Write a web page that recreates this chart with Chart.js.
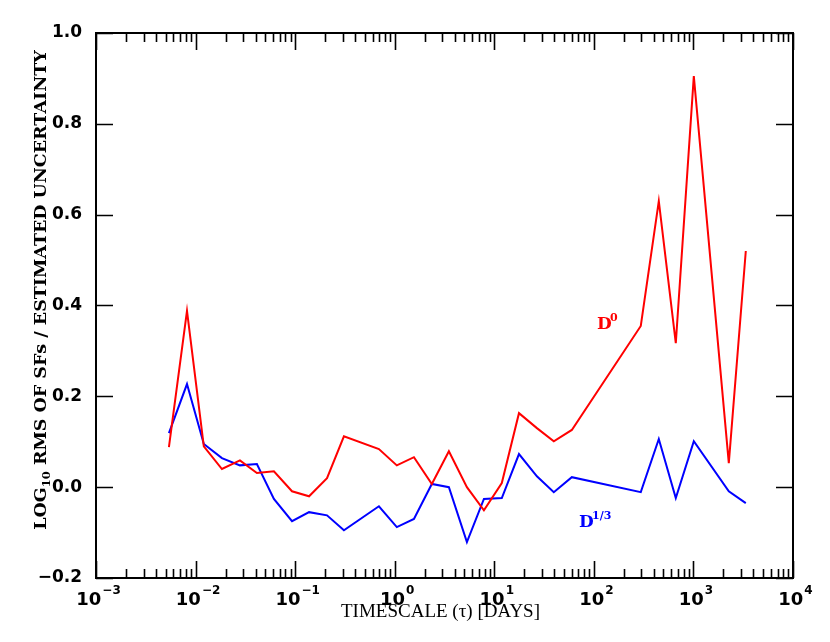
<!DOCTYPE html>
<html>
<head>
<meta charset="utf-8">
<script src="https://cdn.jsdelivr.net/npm/chart.js@4/dist/chart.umd.min.js"></script>
<style>
  html, body { margin: 0; padding: 0; background: #fff; }
  #wrap { width: 830px; height: 642px; }
</style>
</head>
<body>
<div id="wrap"><canvas id="c" width="830" height="642"></canvas></div>
<script>
// Timescale tau [days]
const timescaleDays = [0.0054, 0.0082, 0.0121, 0.0184, 0.0279, 0.0413, 0.0612, 0.093, 0.138, 0.209, 0.309,
  0.694, 1.05, 1.56, 2.36, 3.50, 5.31, 7.87, 11.9, 17.7, 26.8, 39.6, 60.1, 296, 449, 665, 1009, 2266, 3357];
// log10 RMS of SFs / estimated uncertainty
const d0Values = [0.088, 0.388, 0.090, 0.040, 0.059, 0.031, 0.035, -0.009, -0.020, 0.020, 0.112,
  0.084, 0.048, 0.066, 0.007, 0.079, 0.000, -0.051, 0.009, 0.163, 0.130, 0.101, 0.126, 0.355, 0.630, 0.317, 0.905, 0.053, 0.520];
const d13Values = [0.119, 0.227, 0.095, 0.064, 0.048, 0.051, -0.026, -0.075, -0.055, -0.062, -0.095,
  -0.042, -0.088, -0.070, 0.007, 0.000, -0.121, -0.026, -0.024, 0.073, 0.024, -0.011, 0.022, -0.011, 0.106, -0.024, 0.101, -0.009, -0.035];
const xTickValues = [1e-3, 1e-2, 1e-1, 1e0, 1e1, 1e2, 1e3, 1e4];
const xTickExponents = ['\u22123', '\u22122', '\u22121', '0', '1', '2', '3', '4'];
const yTickValues = [-0.2, 0.0, 0.2, 0.4, 0.6, 0.8, 1.0];
const yTickLabels = ['\u22120.2', '0.0', '0.2', '0.4', '0.6', '0.8', '1.0'];
const seriesNames = ['D0', 'D1/3'];
const xTitle = 'TIMESCALE (\u03C4) [DAYS]';
const yTitleParts = ['LOG', '10', ' RMS OF SFs / ESTIMATED UNCERTAINTY'];

const tickFont = { family: 'DejaVu Sans', size: 17, weight: 'bold' };

const framePlugin = {
  id: 'frame',
  afterDraw(chart) {
    const { ctx, chartArea: a, scales } = chart;
    const xs = scales.x, ys = scales.y;
    ctx.save();
    ctx.strokeStyle = '#000';
    ctx.lineWidth = 2;
    ctx.strokeRect(a.left, a.top, a.right - a.left, a.bottom - a.top);
    ctx.lineWidth = 1.6;
    ctx.beginPath();
    for (let e = -3; e <= 4; e++) {
      for (let m = 1; m <= 9; m++) {
        const v = m * Math.pow(10, e);
        if (v > 1e4 * 1.0001) break;
        const px = Math.round(xs.getPixelForValue(v)) + 0.5;
        const len = m === 1 ? 17 : 9;
        ctx.moveTo(px, a.bottom); ctx.lineTo(px, a.bottom - len);
        ctx.moveTo(px, a.top); ctx.lineTo(px, a.top + len);
      }
    }
    yTickValues.forEach(v => {
      const py = Math.round(ys.getPixelForValue(v)) + 0.5;
      ctx.moveTo(a.left, py); ctx.lineTo(a.left + 17, py);
      ctx.moveTo(a.right, py); ctx.lineTo(a.right - 17, py);
    });
    ctx.stroke();

    // x tick labels 10^n
    ctx.fillStyle = '#000';
    ctx.textBaseline = 'alphabetic';
    xTickValues.forEach((v, i) => {
      const px = xs.getPixelForValue(v);
      ctx.font = 'bold 18px "DejaVu Sans"';
      const w1 = ctx.measureText('10').width;
      ctx.font = 'bold 12px "DejaVu Sans"';
      const w2 = ctx.measureText(xTickExponents[i]).width;
      const x0 = px - (w1 + w2) / 2 + 2;
      ctx.font = 'bold 18px "DejaVu Sans"';
      ctx.fillText('10', x0, 605);
      ctx.font = 'bold 12px "DejaVu Sans"';
      ctx.fillText(xTickExponents[i], x0 + w1 + 1, 594);
    });

    // x title
    ctx.textAlign = 'center';
    ctx.font = '19px "Liberation Serif"';
    ctx.fillText(xTitle, (a.left + a.right) / 2 - 4, 617);

    // y title (rotated)
    ctx.save();
    ctx.translate(40, 290);
    ctx.rotate(-Math.PI / 2);
    ctx.textAlign = 'left';
    const bigF = 'bold 17.5px "DejaVu Serif"', smallF = 'bold 11.5px "DejaVu Serif"';
    ctx.font = bigF; const wa = ctx.measureText(yTitleParts[0]).width;
    const wc = ctx.measureText(yTitleParts[2]).width;
    ctx.font = smallF; const wb = ctx.measureText(yTitleParts[1]).width;
    const total = wa + wb + wc;
    let cx = -total / 2;
    ctx.font = bigF; ctx.fillText(yTitleParts[0], cx, 6); cx += wa;
    ctx.font = smallF; ctx.fillText(yTitleParts[1], cx, 10); cx += wb;
    ctx.font = bigF; ctx.fillText(yTitleParts[2], cx, 6);
    ctx.restore();

    // series labels
    ctx.textAlign = 'left';
    ctx.font = 'bold 17px "DejaVu Serif"';
    ctx.fillStyle = '#ff0000';
    ctx.fillText('D', 597, 329);
    ctx.font = 'bold 11px "DejaVu Serif"';
    ctx.fillText('0', 610, 321);
    ctx.fillStyle = '#0000ff';
    ctx.font = 'bold 17px "DejaVu Serif"';
    ctx.fillText('D', 579, 527);
    ctx.font = 'bold 11px "DejaVu Serif"';
    ctx.fillText('1/3', 592, 519);
    ctx.restore();
  }
};

const mkData = vals => timescaleDays.map((t, i) => ({ x: t, y: vals[i] }));

new Chart(document.getElementById('c'), {
  type: 'line',
  data: {
    datasets: [
      { label: seriesNames[0], data: mkData(d0Values), borderColor: '#ff0000', borderWidth: 2, pointRadius: 0, tension: 0, fill: false },
      { label: seriesNames[1], data: mkData(d13Values), borderColor: '#0000ff', borderWidth: 2, pointRadius: 0, tension: 0, fill: false }
    ]
  },
  options: {
    responsive: false,
    animation: false,
    layout: { padding: { top: 33, right: 37, left: 0, bottom: 0 } },
    plugins: { legend: { display: false }, tooltip: { enabled: false } },
    scales: {
      x: {
        type: 'logarithmic',
        min: 1e-3, max: 1e4,
        afterBuildTicks: s => { s.ticks = xTickValues.map(v => ({ value: v, major: true })); },
        afterFit: s => { s.height = 64; },
        grid: { display: false },
        border: { display: false },
        ticks: { autoSkip: false, maxRotation: 0, display: false },
        title: { display: false }
      },
      y: {
        type: 'linear',
        min: -0.2, max: 1.0,
        afterBuildTicks: s => { s.ticks = yTickValues.map(v => ({ value: v })); },
        afterFit: s => { s.width = 96; },
        grid: { display: false },
        border: { display: false },
        ticks: {
          padding: 6, color: '#000', font: tickFont,
          callback: (v, i) => yTickLabels[i]
        },
        title: { display: false }
      }
    }
  },
  plugins: [framePlugin]
});
</script>
</body>
</html>
